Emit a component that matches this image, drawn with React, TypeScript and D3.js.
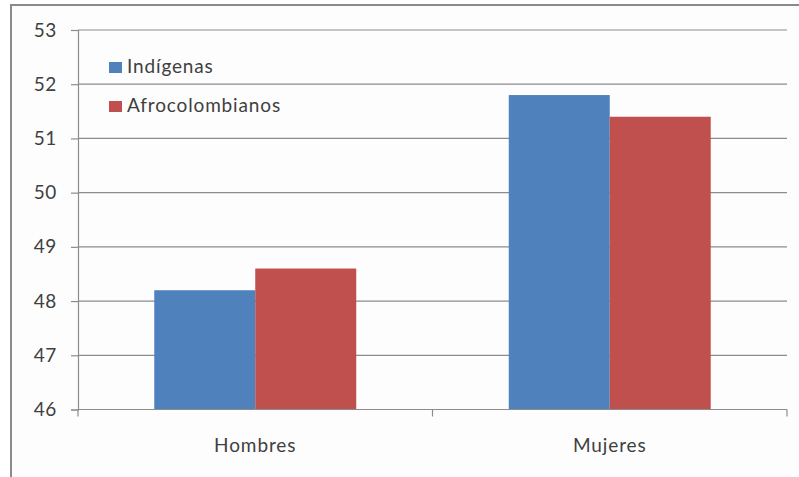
import React, { useEffect, useRef } from 'react';
import * as d3 from 'd3';

const categories = ['Hombres', 'Mujeres'];
const seriesNames = ['Indígenas', 'Afrocolombianos'];
const indigenas = [48.2, 51.8];
const afrocolombianos = [48.6, 51.4];
const yTicks = [46, 47, 48, 49, 50, 51, 52, 53];

const colors = ['#4F81BD', '#C0504D'];

const App: React.FC = () => {
  const svgRef = useRef<SVGSVGElement>(null);
  const width = 799;
  const height = 477;

  useEffect(() => {
    if (!svgRef.current) return;
    const svg = d3.select(svgRef.current);
    svg.selectAll('*').remove();

    const font = 'Lato, "Open Sans", sans-serif';
    const textColor = '#404040';
    const left = 78;
    const right = 787;
    const top = 30;
    const bottom = 409.5;

    // chart frame (cut off at right and bottom)
    svg.append('rect')
      .attr('x', 11)
      .attr('y', 5)
      .attr('width', 820)
      .attr('height', 500)
      .attr('fill', '#fdfdfd')
      .attr('stroke', '#8a8a8a')
      .attr('stroke-width', 2);

    const y = d3.scaleLinear().domain([46, 53]).range([bottom, top]);
    const x0 = d3.scaleBand<string>().domain(categories).range([left, right]).padding(0);
    const x1 = d3.scaleBand<string>()
      .domain(seriesNames)
      .range([0, x0.bandwidth()])
      .paddingInner(0)
      .paddingOuter(0.755);

    // gridlines
    svg.append('g')
      .selectAll('line')
      .data(yTicks.filter(t => t !== 46))
      .enter()
      .append('line')
      .attr('x1', left)
      .attr('x2', right)
      .attr('y1', d => y(d))
      .attr('y2', d => y(d))
      .attr('stroke', '#8c8c8c')
      .attr('stroke-width', 1.2);

    // bars
    const table = categories.map((c, i) => ({
      category: c,
      values: [indigenas[i], afrocolombianos[i]],
    }));

    const groups = svg.append('g')
      .selectAll('g')
      .data(table)
      .enter()
      .append('g')
      .attr('transform', d => `translate(${x0(d.category)},0)`);

    groups.selectAll('rect')
      .data(d => d.values.map((v, i) => ({ name: seriesNames[i], value: v, color: colors[i] })))
      .enter()
      .append('rect')
      .attr('x', d => x1(d.name) || 0)
      .attr('width', x1.bandwidth())
      .attr('y', d => y(d.value))
      .attr('height', d => bottom - y(d.value))
      .attr('fill', d => d.color);

    // y axis
    const yAxis = svg.append('g')
      .attr('transform', `translate(${left},0)`)
      .call(d3.axisLeft(y).tickValues(yTicks).tickSize(7).tickPadding(14).tickFormat(d3.format('d')));
    yAxis.select('.domain').attr('stroke', '#8c8c8c').attr('stroke-width', 1.2);
    yAxis.selectAll('.tick line').attr('stroke', '#8c8c8c').attr('stroke-width', 1.2);
    yAxis.selectAll('.tick text')
      .attr('fill', textColor)
      .style('font-family', font)
      .style('font-size', '19px')
      .style('letter-spacing', '0.6px');

    // x axis
    const xAxis = svg.append('g');
    xAxis.append('line')
      .attr('x1', left)
      .attr('x2', right)
      .attr('y1', bottom)
      .attr('y2', bottom)
      .attr('stroke', '#8c8c8c')
      .attr('stroke-width', 1.2);
    const xTickPos = categories.map(c => x0(c) || 0).concat([right]);
    xAxis.selectAll('line.tick')
      .data(xTickPos)
      .enter()
      .append('line')
      .attr('class', 'tick')
      .attr('x1', d => d)
      .attr('x2', d => d)
      .attr('y1', bottom)
      .attr('y2', bottom + 7)
      .attr('stroke', '#8c8c8c')
      .attr('stroke-width', 1.2);
    xAxis.selectAll('text')
      .data(categories)
      .enter()
      .append('text')
      .attr('x', d => (x0(d) || 0) + x0.bandwidth() / 2)
      .attr('y', 452)
      .attr('text-anchor', 'middle')
      .attr('fill', textColor)
      .style('font-family', font)
      .style('font-size', '19px')
      .style('letter-spacing', '0.9px')
      .text(d => d);

    // legend
    const legend = svg.append('g')
      .selectAll('g')
      .data(seriesNames)
      .enter()
      .append('g')
      .attr('transform', (d, i) => `translate(109,${62 + i * 39})`);
    legend.append('rect')
      .attr('width', 13)
      .attr('height', 11)
      .attr('fill', (d, i) => colors[i]);
    legend.append('text')
      .attr('x', 18)
      .attr('y', 11)
      .attr('fill', textColor)
      .style('font-family', font)
      .style('font-size', '19px')
      .style('letter-spacing', '0.85px')
      .text(d => d);
  }, []);

  return (
    <svg
      ref={svgRef}
      width={width}
      height={height}
      style={{ position: 'absolute', left: 0, top: 0, background: '#ffffff' }}
    />
  );
};

export default App;
